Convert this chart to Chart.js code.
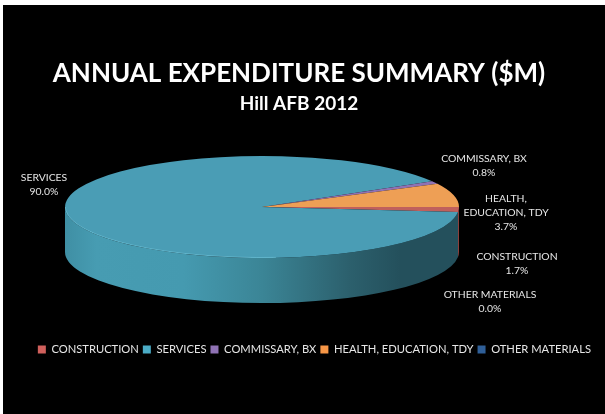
<!DOCTYPE html>
<html>
<head>
<meta charset="utf-8">
<title>Annual Expenditure Summary</title>
<script src="https://cdn.jsdelivr.net/npm/chart.js@4/dist/chart.umd.min.js"></script>
<style>
  html, body { margin: 0; padding: 0; background: #fff; overflow: hidden; }
  #wrap { position: absolute; left: 3px; top: 5px; width: 602px; height: 409px; background: #000; }
</style>
</head>
<body>
<div id="wrap"><canvas id="chart" width="602" height="409"></canvas></div>
<script>
// ─── Data ────────────────────────────────────────
const categories = ['CONSTRUCTION', 'SERVICES', 'COMMISSARY, BX', 'HEALTH, EDUCATION, TDY', 'OTHER MATERIALS'];
// slice sizes as measured on the picture (health is drawn bigger than its printed label)
const sliceValues = [1.6, 90.0, 0.9, 7.5, 0.0];
const printedPercents = ['1.7%', '90.0%', '0.8%', '3.7%', '0.0%'];
const sliceColors = ['#c0605c', '#4a9db5', '#8f72b4', '#ee9f55', '#3d6a9e'];
const legendColors = ['#d0605c', '#4bacc6', '#8f72b4', '#f79646', '#2f5f98'];

// ─── Pie geometry ────────────────────────────────
const RADIUS = 197;
const SQUASH = 0.259;
const DEPTH = 45;
const CX = 259;   // canvas coords
const CY = 202;

// label lines + anchor, canvas coords
const labelSpots = [
  { lines: ['CONSTRUCTION'], x: 514, y: 252 },
  { lines: ['SERVICES'], x: 41, y: 172.5 },
  { lines: ['COMMISSARY, BX'], x: 481, y: 153.5 },
  { lines: ['HEALTH,', 'EDUCATION, TDY'], x: 503, y: 193.5 },
  { lines: ['OTHER MATERIALS'], x: 487, y: 289.5 },
];

// ─── Squash the library's arcs into a tilted disc ─
const tiltPlugin = {
  id: 'tilt',
  beforeDatasetsDraw(chart) {
    const ctx = chart.ctx;
    const arcs = chart.getDatasetMeta(0).data;
    const ax = arcs[0].x, ay = arcs[0].y;

    // side wall, front half only
    const grad = ctx.createLinearGradient(CX - RADIUS, 0, CX + RADIUS, 0);
    grad.addColorStop(0, '#3f8fa4');
    grad.addColorStop(0.08, '#479cb2');
    grad.addColorStop(0.3, '#459ab0');
    grad.addColorStop(0.5, '#3b8596');
    grad.addColorStop(0.72, '#2c606d');
    grad.addColorStop(0.85, '#24505c');
    grad.addColorStop(1, '#24505c');
    ctx.save();
    arcs.forEach((arc, i) => {
      const from = Math.max(norm(arc.startAngle), 0);
      const to = Math.min(norm(arc.startAngle) + (arc.endAngle - arc.startAngle), Math.PI);
      if (to <= from) return;
      ctx.beginPath();
      ctx.ellipse(CX, CY, RADIUS, RADIUS * SQUASH, 0, from, to);
      ctx.ellipse(CX, CY + DEPTH, RADIUS, RADIUS * SQUASH, 0, to, from, true);
      ctx.closePath();
      ctx.fillStyle = i === 1 ? grad : '#8a403c';
      ctx.fill();
    });
    ctx.restore();

    // top face
    ctx.save();
    ctx.translate(CX, CY);
    ctx.scale(1, SQUASH);
    ctx.translate(-ax, -ay);
  },
  afterDatasetsDraw(chart) {
    const ctx = chart.ctx;
    ctx.restore();

    // rim highlight on the front edge
    ctx.save();
    ctx.beginPath();
    ctx.ellipse(CX, CY, RADIUS - 0.5, RADIUS * SQUASH - 0.5, 0, 1.5, Math.PI);
    ctx.strokeStyle = 'rgba(130,215,235,0.4)';
    ctx.lineWidth = 1;
    ctx.stroke();
    ctx.restore();

    // data labels
    ctx.save();
    ctx.fillStyle = '#e6e6e6';
    ctx.font = '10.4px Lato, sans-serif';
    ctx.textAlign = 'center';
    ctx.textBaseline = 'middle';
    labelSpots.forEach((spot, i) => {
      const rows = spot.lines.concat(printedPercents[i]);
      rows.forEach((row, r) => ctx.fillText(row, spot.x, spot.y + r * 14));
    });
    ctx.restore();
  },
};

function norm(a) {
  const two = Math.PI * 2;
  return ((a % two) + two) % two;
}

new Chart(document.getElementById('chart'), {
  type: 'pie',
  data: {
    labels: categories,
    datasets: [{
      data: sliceValues,
      backgroundColor: sliceColors,
      borderWidth: 0,
    }],
  },
  options: {
    responsive: false,
    animation: false,
    rotation: 90,
    radius: RADIUS,
    plugins: {
      tooltip: { enabled: false },
      title: {
        display: true,
        text: 'ANNUAL EXPENDITURE SUMMARY ($M)',
        color: '#ffffff',
        font: { family: 'Lato, sans-serif', size: 26, weight: 'bold' },
        padding: { top: 53, bottom: 0 },
      },
      subtitle: {
        display: true,
        text: 'Hill AFB 2012',
        color: '#ffffff',
        font: { family: 'Lato, sans-serif', size: 19, weight: 'bold' },
        padding: { top: 3, bottom: 0 },
      },
      legend: {
        position: 'bottom',
        align: 'end',
        labels: {
          color: '#e6e6e6',
          font: { family: 'Lato, sans-serif', size: 11.2 },
          boxWidth: 8,
          boxHeight: 8,
          padding: 4,
          generateLabels(chart) {
            return categories.map((name, i) => ({
              text: name,
              fillStyle: legendColors[i],
              strokeStyle: legendColors[i],
              fontColor: '#e6e6e6',
              lineWidth: 0,
              index: i,
            }));
          },
        },
      },
    },
    layout: { padding: { bottom: 49, right: 10 } },
  },
  plugins: [tiltPlugin],
});
</script>
</body>
</html>
